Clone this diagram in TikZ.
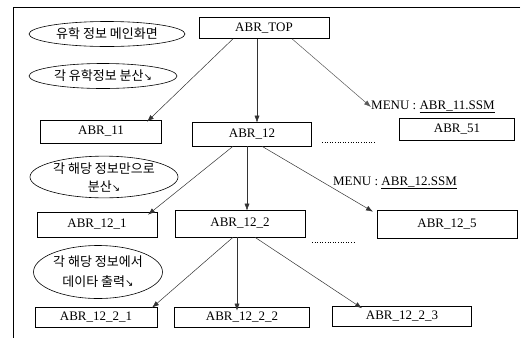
\documentclass[tikz,border=0pt]{standalone}
\usepackage{fontspec}
\setmainfont{Liberation Serif}
\newfontfamily\kr{Noto Sans CJK KR}
\newfontfamily\sym{DejaVu Sans}
\usetikzlibrary{arrows.meta,shapes.geometric}
\begin{document}
\begin{tikzpicture}[x=1pt,y=-1pt,
  box/.style={draw, line width=0.6pt, minimum height=22pt, inner sep=0pt, font=\fontsize{13}{14}\selectfont},
  bubble/.style={draw, ellipse, line width=0.6pt, inner sep=0pt, align=center, font=\kr\fontsize{13}{18}\selectfont},
  link/.style={line width=0.5pt, draw=black!80, -{Latex[length=7pt,width=5pt]}},
  lbl/.style={inner sep=0pt, font=\fontsize{13}{14}\selectfont},
  dots/.style={dotted, line width=0.6pt}]
\useasboundingbox (0,0) rectangle (530,338);
\draw[line width=0.6pt] (520,7) -- (13,7) -- (13,338);
% ellipses
\node[bubble, minimum width=156pt, minimum height=25pt] (e1) at (107,34) {유학 정보 메인화면};
\node[bubble, minimum width=148pt, minimum height=25pt] (e2) at (103,76) {각 유학정보 분산{\sym\fontsize{10}{12}\selectfont ↘}};
\node[bubble, minimum width=148pt, minimum height=41pt] (e3) at (104,177) {각 해당 정보만으로\\분산{\sym\fontsize{10}{12}\selectfont ↘}};
\node[bubble, minimum width=129pt, minimum height=53pt, font=\kr\fontsize{13}{20}\selectfont] (e4) at (98,272) {각 해당 정보에서\\데이타 출력{\sym\fontsize{10}{12}\selectfont ↘}};
% boxes
\node[box, minimum width=130pt, minimum height=21pt] (top) at (264,28) {ABR\_TOP};
\node[box, minimum width=121pt, minimum height=23pt] (a11) at (101,131.5) {ABR\_11};
\node[box, minimum width=119pt, minimum height=24pt] (a12) at (252,134) {ABR\_12};
\node[box, minimum width=115pt, minimum height=22pt] (a51) at (457,129) {ABR\_51};
\node[box, minimum width=120pt, minimum height=25pt] (a121) at (97,224.5) {ABR\_12\_1};
\node[box, minimum width=130pt, minimum height=27pt] (a122) at (240,223.5) {ABR\_12\_2};
\node[box, minimum width=140pt, minimum height=28pt] (a125) at (447,224) {ABR\_12\_5};
\node[box, minimum width=122pt, minimum height=20pt] (a1221) at (96,317) {ABR\_12\_2\_1};
\node[box, minimum width=135pt, minimum height=20pt] (a1222) at (242,317) {ABR\_12\_2\_2};
\node[box, minimum width=139pt, minimum height=20pt] (a1223) at (402,316.5) {ABR\_12\_2\_3};
% labels
\node[lbl, anchor=west] (m1) at (371,107) {MENU : \underline{ABR\_11.SSM}};
\node[lbl] (m2) at (395,183) {MENU : \underline{ABR\_12.SSM}};
% dotted continuations
\draw[dots] (322,142) -- (375,142);
\draw[dots] (312,242) -- (355,242);
% connectors
\draw[link] ([xshift=-31pt]top.south) -- ([xshift=46pt,yshift=-2pt]a11.north);
\draw[link] ([xshift=-7pt]top.south) -- ([xshift=5pt,yshift=-1pt]a12.north);
\draw[link, draw=black!65] ([xshift=28pt]top.south) -- (m1.west);
\draw[link] ([xshift=-19pt]a12.south) -- ([xshift=51pt,yshift=-3pt]a121.north);
\draw[link] ([xshift=-5pt]a12.south) -- ([xshift=7pt,yshift=-1pt]a122.north);
\draw[link] ([xshift=10pt]a12.south) -- ([xshift=-74pt,yshift=-2pt]a125.north);
\draw[link] ([xshift=-7pt]a122.south) -- ([xshift=56pt,yshift=-1pt]a1221.north);
\draw[link] ([xshift=-3pt]a122.south) -- ([xshift=-5pt,yshift=-4pt]a1222.north);
\draw[link] ([xshift=15pt]a122.south) -- ([xshift=-40pt,yshift=-2pt]a1223.north);
\end{tikzpicture}
\end{document}
